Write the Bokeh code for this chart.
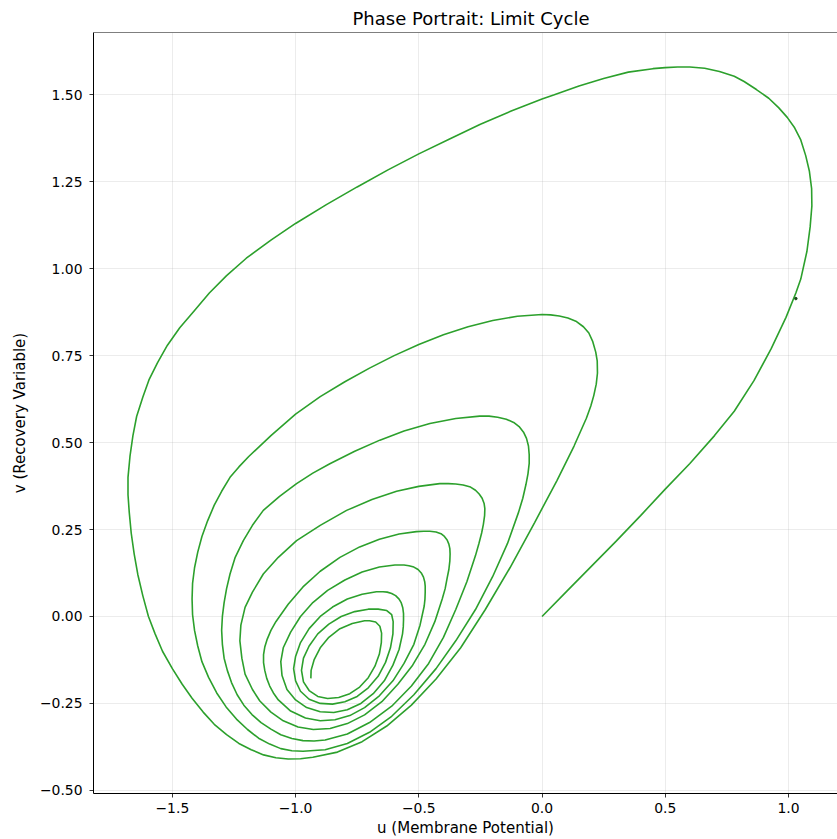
from bokeh.plotting import figure
from bokeh.models import Range1d, FixedTicker, CustomJSTickFormatter, Span
from bokeh.embed import file_html
from bokeh.resources import INLINE

TITLE = "Phase Portrait: Limit Cycle"
X_LABEL = "u (Membrane Potential)"
Y_LABEL = "v (Recovery Variable)"
X_TICKS = [-1.5, -1.0, -0.5, 0.0, 0.5, 1.0]
Y_TICKS = [-0.5, -0.25, 0.0, 0.25, 0.5, 0.75, 1.0, 1.25, 1.5]

# start line and first (outer) revolution
outer_u = [0.0, 0.1, 0.2, 0.3, 0.4, 0.5, 0.6, 0.7, 0.78, 0.86, 0.93, 0.99, 1.03, 1.05, 1.075,
           1.088, 1.095, 1.094, 1.085, 1.07, 1.05, 1.025, 0.995, 0.96, 0.92, 0.87, 0.82, 0.78,
           0.72, 0.66, 0.6, 0.55, 0.5, 0.45, 0.35, 0.25, 0.15, 0.05, 0.0, -0.125, -0.25, -0.375,
           -0.5, -0.625, -0.75, -0.875, -1.0, -1.1, -1.2, -1.28, -1.35, -1.41, -1.47, -1.52, -1.56,
           -1.595, -1.62, -1.645, -1.66, -1.672, -1.68, -1.68, -1.675, -1.667, -1.655, -1.64, -1.62,
           -1.597, -1.57, -1.54, -1.50, -1.46, -1.42, -1.375, -1.33, -1.28, -1.23, -1.18, -1.13,
           -1.08, -1.03]
outer_v = [0.0, 0.072, 0.144, 0.216, 0.29, 0.366, 0.44, 0.52, 0.59, 0.678, 0.77, 0.86, 0.93, 0.97, 1.05,
           1.12, 1.18, 1.23, 1.28, 1.325, 1.37, 1.405, 1.435, 1.463, 1.49, 1.515, 1.538, 1.553,
           1.567, 1.576, 1.58, 1.58, 1.578, 1.575, 1.565, 1.547, 1.525, 1.50, 1.488, 1.453, 1.415, 1.373,
           1.33, 1.284, 1.235, 1.184, 1.13, 1.082, 1.03, 0.98, 0.93, 0.88, 0.83, 0.78, 0.73,
           0.68, 0.63, 0.575, 0.52, 0.46, 0.40, 0.35, 0.30, 0.24, 0.18, 0.12, 0.06,
           0.0, -0.05, -0.1, -0.15, -0.195, -0.235, -0.275, -0.31, -0.34, -0.365, -0.383, -0.398,
           -0.406, -0.41]

# diagonal back up to the second revolution
rise1_u = [-0.98, -0.93, -0.83, -0.73, -0.63, -0.53, -0.43, -0.33, -0.23, -0.13, -0.03, 0.06, 0.13,
           0.18, 0.198, 0.21, 0.22, 0.225, 0.224, 0.218, 0.206, 0.19, 0.168, 0.14, 0.105, 0.07,
           0.035, 0.0]
rise1_v = [-0.409, -0.405, -0.39, -0.36, -0.315, -0.255, -0.18, -0.09, 0.02, 0.14, 0.27, 0.39, 0.49,
           0.57, 0.605, 0.635, 0.668, 0.70, 0.735, 0.76, 0.79, 0.815, 0.833, 0.848, 0.858, 0.864,
           0.867, 0.868]

ring2_u = [-0.1, -0.2, -0.3, -0.4, -0.5, -0.6, -0.7, -0.8, -0.9, -1.0, -1.1, -1.19, -1.23, -1.266,
           -1.30, -1.33, -1.357, -1.38, -1.397, -1.41, -1.418, -1.42, -1.418, -1.41, -1.397, -1.38,
           -1.353, -1.32, -1.282, -1.24, -1.195, -1.15, -1.105, -1.06, -1.015, -0.97, -0.88, -0.79,
           -0.70, -0.61, -0.52, -0.43, -0.35, -0.27, -0.20, -0.14, -0.095, -0.078, -0.065, -0.057,
           -0.052, -0.052, -0.055, -0.063, -0.075, -0.093, -0.115, -0.145, -0.18, -0.215, -0.253]
ring2_v = [0.863, 0.851, 0.833, 0.81, 0.782, 0.75, 0.714, 0.675, 0.632, 0.582, 0.52, 0.46, 0.43, 0.40,
           0.36, 0.32, 0.275, 0.23, 0.185, 0.14, 0.095, 0.05, 0.005, -0.04, -0.085, -0.13,
           -0.175, -0.22, -0.26, -0.295, -0.325, -0.35, -0.367, -0.38, -0.386, -0.3875, -0.383, -0.365,
           -0.333, -0.287, -0.225, -0.15, -0.07, 0.02, 0.115, 0.21, 0.30, 0.34, 0.38, 0.41,
           0.44, 0.465, 0.49, 0.512, 0.53, 0.546, 0.558, 0.567, 0.573, 0.576, 0.576]

ring3_u = [-0.35, -0.455, -0.56, -0.658, -0.76, -0.861, -0.93, -0.996, -1.065, -1.131, -1.175, -1.212,
           -1.245, -1.266, -1.28, -1.29, -1.297, -1.30, -1.297, -1.29, -1.277, -1.26, -1.237, -1.21,
           -1.177, -1.14, -1.10, -1.06, -1.015, -0.97, -0.925, -0.88, -0.79, -0.70, -0.61, -0.53,
           -0.46, -0.40, -0.35, -0.305, -0.27, -0.256, -0.245, -0.238, -0.233, -0.232, -0.235, -0.243,
           -0.255, -0.27, -0.29, -0.32, -0.35, -0.38, -0.415]
ring3_v = [0.569, 0.555, 0.533, 0.507, 0.475, 0.439, 0.412, 0.382, 0.345, 0.305, 0.262, 0.218,
           0.17, 0.122, 0.08, 0.04, 0.0, -0.04, -0.08, -0.12, -0.155, -0.19, -0.225, -0.255,
           -0.282, -0.305, -0.324, -0.34, -0.351, -0.357, -0.358, -0.355, -0.338, -0.305, -0.258, -0.20,
           -0.135, -0.06, 0.02, 0.10, 0.175, 0.21, 0.24, 0.265, 0.29, 0.31, 0.325, 0.34,
           0.352, 0.363, 0.372, 0.378, 0.381, 0.382, 0.382]

ring4_u = [-0.5, -0.59, -0.69, -0.793, -0.9, -0.996, -1.07, -1.131, -1.175, -1.205, -1.222, -1.226,
           -1.218, -1.205, -1.175, -1.145, -1.10, -1.05, -0.99, -0.928, -0.86, -0.79, -0.72, -0.65,
           -0.585, -0.525, -0.475, -0.435, -0.405, -0.393, -0.385, -0.378, -0.374, -0.373, -0.374,
           -0.378, -0.385, -0.396, -0.41, -0.43, -0.455, -0.48, -0.51]
ring4_v = [0.374, 0.36, 0.336, 0.305, 0.262, 0.218, 0.17, 0.122, 0.07, 0.026, -0.025, -0.07,
           -0.12, -0.166, -0.21, -0.243, -0.275, -0.30, -0.318, -0.325, -0.322, -0.308, -0.283, -0.245,
           -0.195, -0.14, -0.08, -0.015, 0.05, 0.08, 0.11, 0.135, 0.16, 0.18, 0.195,
           0.208, 0.22, 0.23, 0.238, 0.243, 0.245, 0.245, 0.244]

ring5_u = [-0.58, -0.66, -0.74, -0.82, -0.9, -0.97, -1.03, -1.08, -1.10, -1.115, -1.125, -1.13,
           -1.13, -1.125, -1.117, -1.105, -1.09, -1.07, -1.02, -0.96, -0.9, -0.84, -0.78, -0.72,
           -0.66, -0.605, -0.56, -0.52, -0.495, -0.478, -0.475, -0.474, -0.474, -0.476, -0.481,
           -0.49, -0.503, -0.52, -0.54, -0.56, -0.597]
ring5_v = [0.237, 0.222, 0.2, 0.17, 0.13, 0.085, 0.035, -0.015, -0.04, -0.065, -0.088, -0.11,
           -0.133, -0.155, -0.178, -0.2, -0.22, -0.24, -0.272, -0.292, -0.30, -0.297, -0.285, -0.262,
           -0.228, -0.185, -0.135, -0.08, -0.025, 0.03, 0.05, 0.07, 0.087, 0.1, 0.113,
           0.125, 0.135, 0.142, 0.146, 0.148, 0.148]

ring6_u = [-0.66, -0.73, -0.8, -0.87, -0.93, -0.98, -1.02, -1.05, -1.06, -1.055, -1.035, -1.0,
           -0.955, -0.9, -0.845, -0.79, -0.735, -0.685, -0.64, -0.605, -0.58, -0.566, -0.563, -0.562,
           -0.562, -0.565, -0.571, -0.58, -0.594, -0.61, -0.628, -0.645, -0.672]
ring6_v = [0.142, 0.128, 0.105, 0.075, 0.04, 0.0, -0.045, -0.09, -0.13, -0.17, -0.21, -0.24,
           -0.262, -0.274, -0.276, -0.268, -0.25, -0.222, -0.185, -0.14, -0.095, -0.05, -0.03, -0.01,
           0.008, 0.025, 0.039, 0.05, 0.06, 0.066, 0.07, 0.071, 0.071]

ring7_u = [-0.73, -0.79, -0.85, -0.9, -0.945, -0.98, -1.0, -1.008, -1.0, -0.98, -0.945, -0.9,
           -0.85, -0.8, -0.75, -0.705, -0.665, -0.635, -0.615, -0.605, -0.604, -0.61, -0.63, -0.665, -0.705]
ring7_v = [0.064, 0.05, 0.027, 0.0, -0.035, -0.075, -0.115, -0.15, -0.185, -0.215, -0.238, -0.25,
           -0.252, -0.245, -0.23, -0.205, -0.172, -0.132, -0.09, -0.05, -0.015, 0.005, 0.017, 0.021, 0.021]

ring8_u = [-0.76, -0.815, -0.865, -0.91, -0.945, -0.968, -0.976, -0.968, -0.945, -0.91, -0.87, -0.825,
           -0.78, -0.74, -0.705, -0.678, -0.66, -0.652, -0.651, -0.658, -0.675, -0.7, -0.72]
ring8_v = [0.014, 0.0, -0.022, -0.05, -0.085, -0.12, -0.155, -0.188, -0.213, -0.23, -0.236, -0.233,
           -0.222, -0.203, -0.176, -0.143, -0.108, -0.075, -0.048, -0.028, -0.016, -0.0125, -0.0125]

tail_u = [-0.77, -0.82, -0.865, -0.9, -0.925, -0.937, -0.938]
tail_v = [-0.02, -0.035, -0.06, -0.09, -0.125, -0.155, -0.178]

mark_u = [1.03]
mark_v = [0.914]

segments = [(outer_u, outer_v), (rise1_u, rise1_v), (ring2_u, ring2_v), (ring3_u, ring3_v),
            (ring4_u, ring4_v), (ring5_u, ring5_v), (ring6_u, ring6_v), (ring7_u, ring7_v),
            (ring8_u, ring8_v), (tail_u, tail_v)]
u_all, v_all = [], []
for su, sv in segments:
    u_all += su
    v_all += sv

X_MIN, X_MAX = -1.820, 1.199
Y_MIN, Y_MAX = -0.509, 1.679
FONT = "DejaVu Sans"

p = figure(width=837, height=839, output_backend="svg", toolbar_location=None,
           x_range=Range1d(X_MIN, X_MAX), y_range=Range1d(Y_MIN, Y_MAX),
           min_border_left=93, min_border_right=0, min_border_top=32, min_border_bottom=46,
           background_fill_color="white", border_fill_color="white")
p.outline_line_color = None

p.title.text = TITLE
p.title.text_font = FONT
p.title.text_font_size = "18px"
p.title.text_font_style = "normal"
p.title.text_color = "black"
p.title.align = "left"
p.title.offset = 259
p.title.standoff = 8

p.xaxis.ticker = FixedTicker(ticks=X_TICKS)
p.yaxis.ticker = FixedTicker(ticks=Y_TICKS)
p.xaxis.formatter = CustomJSTickFormatter(code="return (tick < 0 ? '\u2212' : '') + Math.abs(tick).toFixed(1);")
p.yaxis.formatter = CustomJSTickFormatter(code="return (tick < 0 ? '\u2212' : '') + Math.abs(tick).toFixed(2);")

for ax in (p.xaxis[0], p.yaxis[0]):
    ax.major_label_text_font = FONT
    ax.major_label_text_font_size = "13.9px"
    ax.major_label_text_color = "black"
    ax.axis_label_text_font = FONT
    ax.axis_label_text_font_size = "15px"
    ax.axis_label_text_font_style = "normal"
    ax.axis_label_text_color = "black"
    ax.axis_line_color = "black"
    ax.axis_line_width = 1
    ax.major_tick_line_color = "black"
    ax.major_tick_line_width = 0.8
    ax.major_tick_out = 4
    ax.major_tick_in = 0
    ax.minor_tick_line_color = None

p.xaxis.axis_label = X_LABEL
p.yaxis.axis_label = Y_LABEL
p.xaxis.major_label_standoff = 5
p.xaxis.axis_label_standoff = 3
p.yaxis.major_label_standoff = 7
p.yaxis.axis_label_standoff = 8

for g in (p.xgrid[0], p.ygrid[0]):
    g.grid_line_color = "#b0b0b0"
    g.grid_line_alpha = 0.3
    g.grid_line_width = 0.8

p.add_layout(Span(location=Y_MAX, dimension="width", line_color="black", line_width=1.2))

p.line(u_all, v_all, line_color="#2ca02c", line_width=1.6)
p.scatter(mark_u, mark_v, size=2.5, color="#1b4d1b")

open("out.html", "w").write(file_html(p, INLINE))
